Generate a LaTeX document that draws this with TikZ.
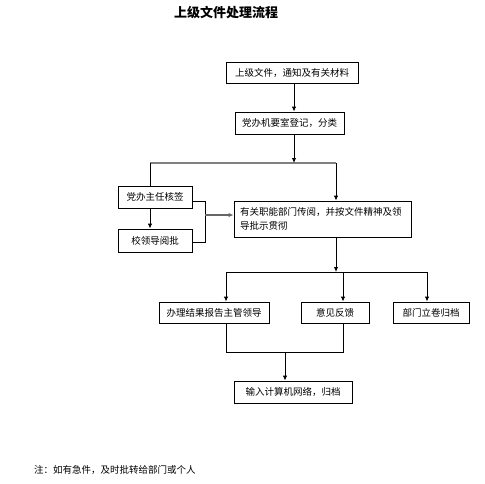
\documentclass[tikz,border=0pt]{standalone}
\usepackage{fontspec}
\setmainfont{Noto Sans CJK SC}
\usetikzlibrary{arrows.meta}
\begin{document}
\begin{tikzpicture}[x=1pt,y=-1pt,
  box/.style={draw,line width=0.9pt,rectangle,inner sep=0pt,font=\fontsize{9.5}{12}\selectfont,align=center},
  ln/.style={line width=0.9pt},
  arr/.style={line width=0.9pt,-{Latex[length=5pt,width=4.5pt]}},
  gl/.style={line width=2pt,draw=black!50}]
\useasboundingbox (0,0) rectangle (485,483);
\node (title) at (226,13) {\fontsize{13}{15}\selectfont\bfseries 上级文件处理流程};
\node[box,minimum width=132pt,minimum height=21pt] (b1) at (292,72.5) {上级文件，通知及有关材料};
\node[box,minimum width=109pt,minimum height=22pt] (b2) at (289.5,123) {党办机要室登记，分类};
\node[box,minimum width=74pt,minimum height=22pt] (b3) at (155,197) {党办主任核签};
\node[box,minimum width=74pt,minimum height=23pt] (b5) at (155,240.5) {校领导阅批};
\node[box,minimum width=177pt,minimum height=36pt,text width=165pt,align=left,font=\fontsize{9.5}{14}\selectfont] (b4) at (322.5,219) {有关职能部门传阅，并按文件精神及领\\导批示贯彻};
\node[box,minimum width=110pt,minimum height=21pt] (b6) at (214,312.5) {办理结果报告主管领导};
\node[box,minimum width=68pt,minimum height=21pt] (b7) at (335,312.5) {意见反馈};
\node[box,minimum width=76pt,minimum height=21pt] (b8) at (431,312.5) {部门立卷归档};
\node[box,minimum width=118pt,minimum height=22pt] (b9) at (293,392) {输入计算机网络，归档};
\node[anchor=west,inner sep=0pt,font=\fontsize{9.5}{12}\selectfont] (note) at (34,470) {注：如有急件，及时批转给部门或个人};
% coordinates
\coordinate (m1) at (294,0);
\coordinate (ja) at (294,163);
\coordinate (jl) at (150,163);
\coordinate (jr) at (336,163);
\coordinate (bx) at (205,215);
\coordinate (kx) at (205,0);
\coordinate (m2) at (336,272);
\coordinate (hl) at (226,272);
\coordinate (hm) at (343,272);
\coordinate (hr) at (427,272);
\coordinate (ll) at (226,352);
\coordinate (lr) at (343,352);
\coordinate (lm) at (285,352);
% connectors
\draw[arr] (b1.south -| m1) -- (b2.north -| m1);
\draw[gl] (jl) -- (jr);
\draw[arr] (b2.south -| m1) -- (ja);
\draw[ln] (jl) -- (b3.north -| jl);
\draw[arr] (jr) -- (b4.north -| jr);
\draw[arr] (b3.south -| jl) -- (b5.north -| jl);
\draw[ln] ([yshift=-4pt]b3.east) -| ([yshift=-2pt]kx |- b5.east) -- ([yshift=-2pt]b5.east);
\draw[ln,draw=black!60,line width=1.6pt,-{Latex[length=5pt,width=4.5pt]}] (bx) -- (bx -| b4.west);
\draw[arr] (b4.south -| m2) -- (m2);
\draw[ln] (hl) -- (hr);
\draw[arr] (hl) -- (b6.north -| hl);
\draw[arr] (hm) -- (b7.north -| hm);
\draw[arr] (hr) -- (b8.north -| hr);
\draw[ln] (b6.south -| ll) -- (ll) -- (lr) -- (b7.south -| lr);
\draw[arr] (lm) -- (b9.north -| lm);
\end{tikzpicture}
\end{document}
